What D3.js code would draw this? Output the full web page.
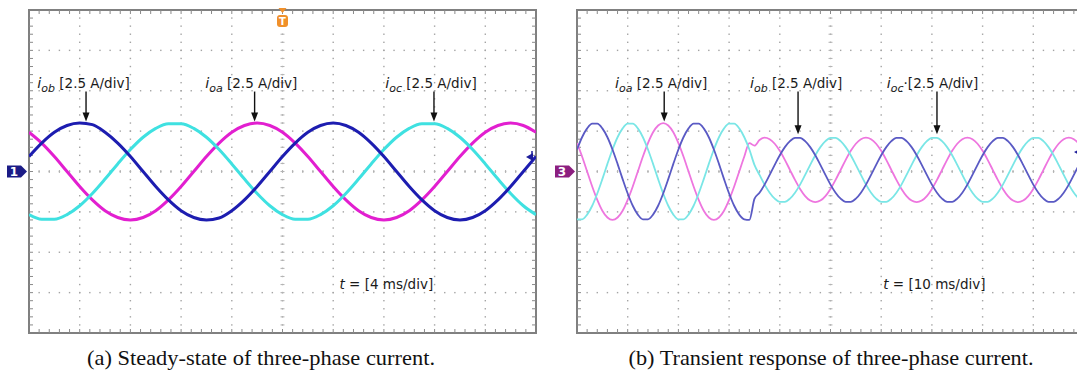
<!DOCTYPE html>
<html>
<head>
<meta charset="utf-8">
<script src="https://cdn.jsdelivr.net/npm/d3@7"></script>
<style>
  body { margin: 0; background: #fff; }
  svg { display: block; }
  .lbl { font-family: "DejaVu Sans", Verdana, sans-serif; font-size: 13.5px; fill: #1a1a1a; }
  .cap { font-family: "Liberation Serif", "DejaVu Serif", serif; font-size: 21px; fill: #111; }
</style>
</head>
<body>
<div id="chart"></div>
<script>
// sample spacing of the traces, in ms
var sampleMs = 1;

// (a) steady state, 0..40 ms, values in A
var ioaSteady = [2.43,1.76,0.93,0,-0.93,-1.76,-2.43,-2.85,-3.00,-2.85,-2.43,-1.76,-0.93,0,0.93,1.76,2.43,2.85,3.00,2.85,
  2.43,1.76,0.93,0,-0.93,-1.76,-2.43,-2.85,-3.00,-2.85,-2.43,-1.76,-0.93,0,0.93,1.76,2.43,2.85,3.00,2.85,2.43];
var iobSteady = [0.93,1.76,2.43,2.85,3.00,2.90,2.43,1.76,0.93,0,-0.93,-1.76,-2.43,-2.85,-3.00,-2.88,-2.43,-1.76,-0.93,0,
  0.93,1.76,2.43,2.85,3.00,2.85,2.43,1.76,0.93,0,-0.93,-1.76,-2.43,-2.85,-3.00,-2.85,-2.43,-1.76,-0.93,0,0.93];
var iocSteady = [-2.67,-2.96,-2.96,-2.67,-2.12,-1.36,-0.47,0.47,1.36,2.12,2.67,2.96,2.96,2.67,2.12,1.36,0.47,-0.47,-1.36,-2.12,
  -2.67,-2.96,-2.96,-2.67,-2.12,-1.36,-0.47,0.47,1.36,2.12,2.67,2.96,2.96,2.67,2.12,1.36,0.47,-0.47,-1.36,-2.12,-2.67];

// (b) transient, 0..100 ms, values in A
var ioaTrans = [1.76,0.93,0,-0.93,-1.76,-2.43,-2.85,-3.00,-2.85,-2.43,
  -1.76,-0.93,0,0.93,1.76,2.43,2.85,3.00,2.85,2.43,
  1.76,0.93,0,-0.93,-1.76,-2.43,-2.85,-3.00,-2.85,-2.43,
  -1.76,-0.93,0,0.93,1.76,1.60,1.95,2.10,2.00,1.72,
  1.28,0.72,0.10,-0.52,-1.08,-1.52,-1.80,-1.90,-1.80,-1.52,
  -1.08,-0.52,0.10,0.72,1.28,1.72,2.00,2.10,2.00,1.72,
  1.28,0.72,0.10,-0.52,-1.08,-1.52,-1.80,-1.90,-1.80,-1.52,
  -1.08,-0.52,0.10,0.72,1.28,1.72,2.00,2.10,2.00,1.72,
  1.28,0.72,0.10,-0.52,-1.08,-1.52,-1.80,-1.90,-1.80,-1.52,
  -1.08,-0.52,0.10,0.72,1.28,1.72,2.00,2.10,2.00,1.72,1.28];
var iobTrans = [1.36,2.12,2.67,2.96,2.96,2.67,2.12,1.36,0.47,-0.47,
  -1.36,-2.12,-2.67,-2.96,-2.96,-2.67,-2.12,-1.36,-0.47,0.47,
  1.36,2.12,2.67,2.96,2.96,2.67,2.12,1.36,0.47,-0.47,
  -1.36,-2.12,-2.67,-2.96,-3.00,-1.70,-1.31,-0.81,-0.21,0.41,
  1.01,1.51,1.88,2.08,2.08,1.88,1.51,1.01,0.41,-0.21,
  -0.81,-1.31,-1.68,-1.88,-1.88,-1.68,-1.31,-0.81,-0.21,0.41,
  1.01,1.51,1.88,2.08,2.08,1.88,1.51,1.01,0.41,-0.21,
  -0.81,-1.31,-1.68,-1.88,-1.88,-1.68,-1.31,-0.81,-0.21,0.41,
  1.01,1.51,1.88,2.08,2.08,1.88,1.51,1.01,0.41,-0.21,
  -0.81,-1.31,-1.68,-1.88,-1.88,-1.68,-1.31,-0.81,-0.21,0.41,1.01];
var iocTrans = [-2.96,-2.96,-2.67,-2.12,-1.36,-0.47,0.47,1.36,2.12,2.67,
  2.96,2.96,2.67,2.12,1.36,0.47,-0.47,-1.36,-2.12,-2.67,
  -2.96,-2.96,-2.67,-2.12,-1.36,-0.47,0.47,1.36,2.12,2.67,
  2.96,2.96,2.67,2.12,1.36,0.41,-0.21,-0.81,-1.31,-1.68,
  -1.88,-1.88,-1.68,-1.31,-0.81,-0.21,0.41,1.01,1.51,1.88,
  2.08,2.08,1.88,1.51,1.01,0.41,-0.21,-0.81,-1.31,-1.68,
  -1.88,-1.88,-1.68,-1.31,-0.81,-0.21,0.41,1.01,1.51,1.88,
  2.08,2.08,1.88,1.51,1.01,0.41,-0.21,-0.81,-1.31,-1.68,
  -1.88,-1.88,-1.68,-1.31,-0.81,-0.21,0.41,1.01,1.51,1.88,
  2.08,2.08,1.88,1.51,1.01,0.41,-0.21,-0.81,-1.31,-1.68,-1.88];

// annotations: subscript, arrow time (ms), arrow top / tip (A), text start time (ms)
var notesSteady = [
  { sub: "ob", t: 4.5, top: 4.95, tip: 3.1, tx: 0.65, dot: "" },
  { sub: "oa", t: 17.8, top: 4.95, tip: 3.1, tx: 13.9, dot: "" },
  { sub: "oc", t: 31.95, top: 4.95, tip: 3.1, tx: 28.1, dot: "" }
];
var notesTrans = [
  { sub: "oa", t: 17.2, top: 4.95, tip: 3.1, tx: 7.5, dot: "" },
  { sub: "ob", t: 43.6, top: 4.95, tip: 2.3, tx: 34.1, dot: "" },
  { sub: "oc", t: 71.0, top: 4.95, tip: 2.3, tx: 61.1, dot: "\u00b7" }
];
var voltsPerDivText = "[2.5 A/div]";
var captions = ["(a) Steady-state of three-phase current.", "(b) Transient response of three-phase current."];

var W = 1077, H = 376;
var svg = d3.select("#chart").append("svg").attr("width", W).attr("height", H);

var panels = [
  { left: 29, msPerDiv: 4, ch: "1", chColor: "#1b1b86", trig: true, timeText: "t = [4 ms/div]", timeAt: 24.5,
    notes: notesSteady, width: 3, cap: captions[0], capX: 261, capW: 348, lvl: 0.9,
    series: [ { v: ioaSteady, c: "#e21fd0" }, { v: iocSteady, c: "#3fe1e1" }, { v: iobSteady, c: "#1d1db0" } ] },
  { left: 577, msPerDiv: 10, ch: "3", chColor: "#8c1f80", trig: false, timeText: "t = [10 ms/div]", timeAt: 60.4,
    notes: notesTrans, width: 1.8, cap: captions[1], capX: 831, capW: 405, lvl: 1.2,
    series: [ { v: ioaTrans, c: "#ee76df" }, { v: iocTrans, c: "#7ae6e6" }, { v: iobTrans, c: "#5a5ac4" } ] }
];

panels.forEach(function (p, pi) {
  var span = p.msPerDiv * 10;
  var x = d3.scaleLinear().domain([0, span]).range([p.left, p.left + 507]);
  var y = d3.scaleLinear().domain([-10, 10]).range([333, 10]);
  var g = svg.append("g");

  var minorX = d3.range(0, 50.5).map(function (k) { return k * p.msPerDiv / 5; });
  var minorY = d3.range(0, 40.5).map(function (k) { return -10 + k * 0.5; });
  var majorX = d3.range(1, 10).map(function (k) { return k * p.msPerDiv; });
  var majorY = d3.range(1, 8).map(function (k) { return -10 + k * 2.5; });

  // dotted grid
  majorX.forEach(function (tx) {
    g.selectAll(null).data(minorY.slice(1, -1)).enter().append("rect")
      .attr("x", x(tx) - 0.7).attr("y", function (d) { return y(d) - 0.7; })
      .attr("width", 1.4).attr("height", 1.4).attr("fill", "#a4a4a4");
  });
  majorY.forEach(function (ty) {
    g.selectAll(null).data(minorX.slice(1, -1)).enter().append("rect")
      .attr("x", function (d) { return x(d) - 0.7; }).attr("y", y(ty) - 0.7)
      .attr("width", 1.4).attr("height", 1.4).attr("fill", "#a4a4a4");
  });
  // centre axis ticks
  g.selectAll(null).data(minorY.slice(1, -1)).enter().append("line")
    .attr("x1", x(span / 2) - 2).attr("x2", x(span / 2) + 2)
    .attr("y1", function (d) { return y(d); }).attr("y2", function (d) { return y(d); })
    .attr("stroke", "#b4b4b4").attr("stroke-width", 1);
  g.selectAll(null).data(minorX.slice(1, -1)).enter().append("line")
    .attr("y1", y(0) - 1.5).attr("y2", y(0) + 1.5)
    .attr("x1", function (d) { return x(d); }).attr("x2", function (d) { return x(d); })
    .attr("stroke", "#b4b4b4").attr("stroke-width", 1);

  // frame with inner ticks
  g.append("rect").attr("x", x(0)).attr("y", y(10)).attr("width", x(span) - x(0)).attr("height", y(-10) - y(10))
    .attr("fill", "none").attr("stroke", "#808080").attr("stroke-width", 2);
  [y(10), y(-10)].forEach(function (yy, i) {
    g.selectAll(null).data(minorX.slice(1, -1)).enter().append("line")
      .attr("x1", function (d) { return x(d); }).attr("x2", function (d) { return x(d); })
      .attr("y1", yy).attr("y2", yy + (i === 0 ? 4 : -4))
      .attr("stroke", "#8a8a8a").attr("stroke-width", 1);
  });
  [x(0), x(span)].forEach(function (xx, i) {
    g.selectAll(null).data(minorY.slice(1, -1)).enter().append("line")
      .attr("y1", function (d) { return y(d); }).attr("y2", function (d) { return y(d); })
      .attr("x1", xx).attr("x2", xx + (i === 0 ? 4 : -4))
      .attr("stroke", "#8a8a8a").attr("stroke-width", 1);
  });

  // traces
  var clipId = "clip" + pi;
  svg.append("clipPath").attr("id", clipId).append("rect")
    .attr("x", x(0)).attr("y", y(10)).attr("width", x(span) - x(0)).attr("height", y(-10) - y(10));
  var line = d3.line()
    .x(function (d, i) { return x(i * sampleMs); })
    .y(function (d) { return y(d); })
    .curve(d3.curveMonotoneX);
  g.append("g").attr("clip-path", "url(#" + clipId + ")")
    .selectAll("path").data(p.series).enter().append("path")
    .attr("d", function (s) { return line(s.v); })
    .attr("fill", "none").attr("stroke", function (s) { return s.c; })
    .attr("stroke-width", p.width).attr("stroke-linejoin", "round");

  // channel reference tag
  var ty0 = y(0), tx0 = x(0) - 22;
  g.append("path")
    .attr("d", "M" + tx0 + "," + (ty0 - 6) + "h14l6,6l-6,6h-14z")
    .attr("fill", p.chColor);
  g.append("text").attr("x", tx0 + 7).attr("y", ty0 + 4.5).attr("text-anchor", "middle")
    .attr("font-family", "DejaVu Sans, sans-serif").attr("font-size", 12).attr("font-weight", "bold")
    .attr("fill", "#fff").text(p.ch);

  // trigger level marker on the right edge
  var lx = x(span) - 10, ly = y(p.lvl);
  g.append("path").attr("d", "M" + lx + "," + ly + "l7,-4v8z").attr("fill", "#1d1d9a");
  g.append("line").attr("x1", lx + 6).attr("x2", lx + 6).attr("y1", ly - 6).attr("y2", ly)
    .attr("stroke", "#1d1d9a").attr("stroke-width", 1.5);

  // trigger time marker
  if (p.trig) {
    var cx = x(span / 2);
    g.append("path").attr("d", "M" + (cx - 4) + ",8l4,5l4,-5z").attr("fill", "#f0902a");
    g.append("rect").attr("x", cx - 5.5).attr("y", 15).attr("width", 11).attr("height", 12).attr("rx", 3)
      .attr("fill", "#f0902a");
    g.append("text").attr("x", cx).attr("y", 25).attr("text-anchor", "middle")
      .attr("font-family", "DejaVu Sans, sans-serif").attr("font-size", 10).attr("font-weight", "bold")
      .attr("fill", "#fff").text("T");
  }

  // annotations
  p.notes.forEach(function (a) {
    var t = g.append("text").attr("class", "lbl").attr("x", x(a.tx)).attr("y", y(5.2));
    t.append("tspan").attr("font-style", "italic").attr("font-size", "14.5px").text("i");
    t.append("tspan").attr("font-style", "italic").attr("font-size", "11px").attr("dy", 4).text(a.sub);
    t.append("tspan").attr("dy", -4).text(a.dot === "" ? " " + voltsPerDivText : a.dot + voltsPerDivText);
    var ax = x(a.t), y1 = y(a.top), y2 = y(a.tip);
    g.append("line").attr("x1", ax).attr("x2", ax).attr("y1", y1).attr("y2", y2 - 7)
      .attr("stroke", "#111").attr("stroke-width", 1.4);
    g.append("path").attr("d", "M" + (ax - 3.5) + "," + (y2 - 9) + "L" + ax + "," + y2 + "L" + (ax + 3.5) + "," + (y2 - 9) + "z")
      .attr("fill", "#111");
  });

  var tt = g.append("text").attr("class", "lbl").attr("x", x(p.timeAt)).attr("y", y(-7.3));
  tt.append("tspan").attr("font-style", "italic").text("t");
  tt.append("tspan").text(p.timeText.slice(1));

  svg.append("text").attr("class", "cap").attr("x", p.capX).attr("y", 365)
    .attr("text-anchor", "middle").attr("textLength", p.capW).attr("lengthAdjust", "spacingAndGlyphs")
    .text(p.cap);
});
</script>
</body>
</html>
